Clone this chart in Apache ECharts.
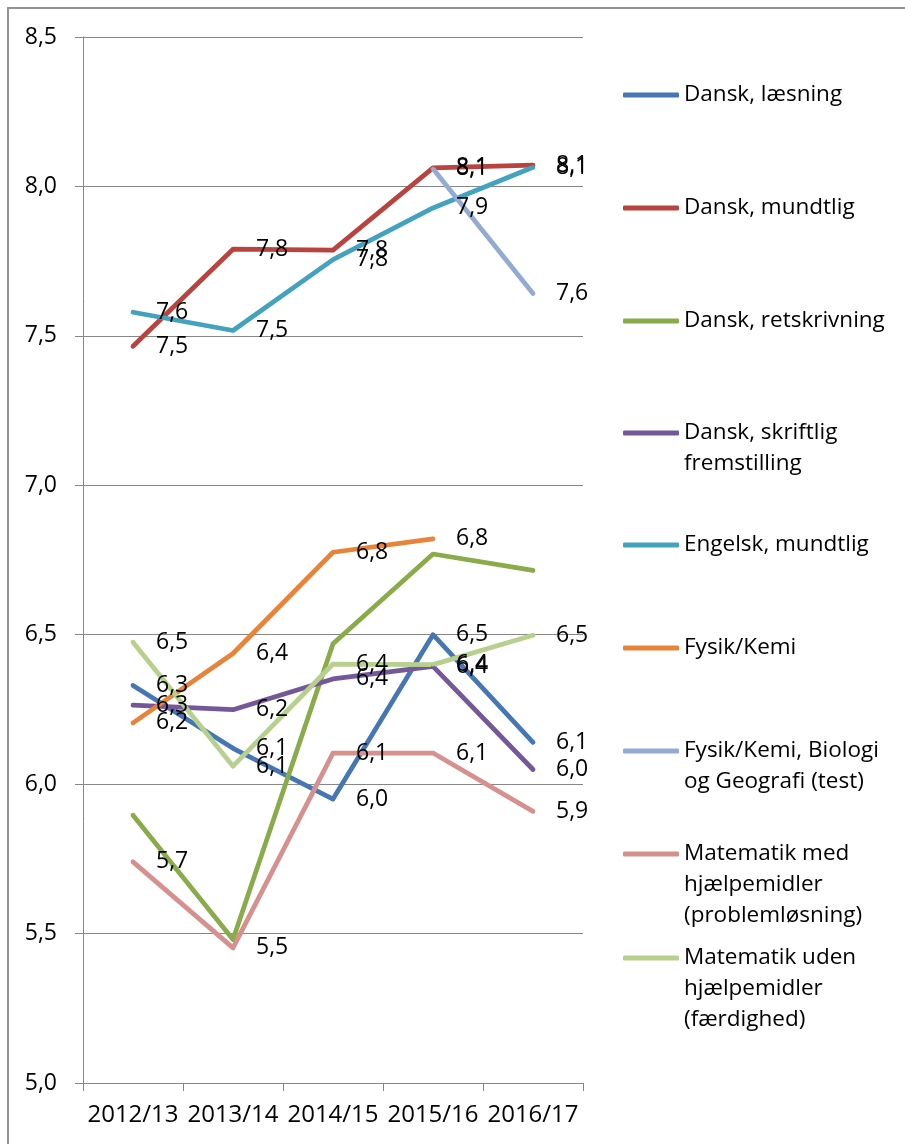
<!DOCTYPE html>
<html>
<head>
<meta charset="utf-8">
<script src="https://cdn.jsdelivr.net/npm/echarts@6/dist/echarts.min.js"></script>
<style>
html,body{margin:0;padding:0;background:#fff;overflow:hidden;}
#wrap{position:relative;width:905px;height:1144px;overflow:hidden;}
#chart{position:absolute;left:0;top:0;width:905px;height:1144px;}
#frame{position:absolute;left:7px;top:7px;width:1000px;height:1300px;border-top:2px solid #939393;border-left:2px solid #939393;pointer-events:none;}
</style>
</head>
<body>
<div id="wrap"><div id="chart"></div><div id="frame"></div></div>
<script>
// Categories (school years)
const categories = ['2012/13', '2013/14', '2014/15', '2015/16', '2016/17'];

// Series names
const seriesNames = [
  'Dansk, læsning',
  'Dansk, mundtlig',
  'Dansk, retskrivning',
  'Dansk, skriftlig\nfremstilling',
  'Engelsk, mundtlig',
  'Fysik/Kemi',
  'Fysik/Kemi, Biologi\nog Geografi (test)',
  'Matematik med\nhjælpemidler\n(problemløsning)',
  'Matematik uden\nhjælpemidler\n(færdighed)'
];

// Series values
const danskLaesning     = [6.33, 6.12, 5.95, 6.50, 6.14];
const danskMundtlig     = [7.465, 7.79, 7.787, 8.062, 8.071];
const danskRetskrivning = [5.896, 5.48, 6.47, 6.77, 6.715];
const danskSkriftlig    = [6.264, 6.249, 6.352, 6.394, 6.049];
const engelskMundtlig   = [7.579, 7.518, 7.755, 7.928, 8.064];
const fysikKemi         = [6.205, 6.437, 6.776, 6.821, null];
const fysikBioGeo       = [null, null, null, 8.059, 7.642];
const matMed            = [5.74, 5.452, 6.104, 6.104, 5.909];
const matUden           = [6.475, 6.06, 6.402, 6.40, 6.498];

// Y axis tick values
const yTicks = [5.0, 5.5, 6.0, 6.5, 7.0, 7.5, 8.0, 8.5];

const seriesData = [danskLaesning, danskMundtlig, danskRetskrivning, danskSkriftlig,
  engelskMundtlig, fysikKemi, fysikBioGeo, matMed, matUden];
const colors = ['#4677B4', '#B9433F', '#8AAB49', '#74589A', '#43A3BF', '#E8843A', '#93ABD3', '#D6918F', '#B8D08E'];
const showLabels = [true, true, false, true, true, true, true, true, true];

// Legend icon centres (layout)
const legendCenters = [95, 208, 321, 433, 545, 648, 751, 854, 958];

const FONT = 'Open Sans';
const fmt = v => Number(v).toFixed(1).replace('.', ',');

const series = seriesNames.map((name, i) => ({
  name: name,
  type: 'line',
  data: seriesData[i],
  color: colors[i],
  symbol: 'circle',
  symbolSize: 4,
  showSymbol: true,
  connectNulls: false,
  lineStyle: { width: 4.75, color: colors[i], cap: 'round', join: 'round' },
  itemStyle: { color: colors[i] },
  emphasis: { disabled: true },
  animation: false,
  label: {
    show: showLabels[i],
    position: 'right',
    distance: 21,
    color: '#000',
    fontFamily: FONT,
    fontSize: 23,
    formatter: p => fmt(p.value)
  }
}));

const LH = 31;
const legends = seriesNames.map((name, i) => {
  const lines = name.split('\n').length;
  const H = (2 * lines - 1) * LH;
  return {
    orient: 'vertical',
    left: 623,
    top: legendCenters[i] - H / 2,
    padding: 0,
    itemWidth: 56,
    itemHeight: 5,
    icon: 'roundRect',
    selectedMode: false,
    data: [name],
    formatter: n => '\n'.repeat(lines - 1) + n,
    textStyle: { fontFamily: FONT, fontSize: 22.5, lineHeight: LH, color: '#000' }
  };
});

const chart = echarts.init(document.getElementById('chart'), null, { renderer: 'canvas' });
chart.setOption({
  backgroundColor: 'transparent',
  animation: false,
  grid: { left: 83, right: 322, top: 37, bottom: 61, containLabel: false },
  legend: legends,
  xAxis: {
    type: 'category',
    data: categories,
    boundaryGap: true,
    axisLine: { show: true, lineStyle: { color: '#878787', width: 1 } },
    axisTick: { show: true, alignWithLabel: false, length: 8, lineStyle: { color: '#878787' } },
    axisLabel: { color: '#000', fontFamily: FONT, fontSize: 24, margin: 20, interval: 0 },
    splitLine: { show: false }
  },
  yAxis: {
    type: 'value',
    min: yTicks[0],
    max: yTicks[yTicks.length - 1],
    interval: 0.5,
    axisLine: { show: true, lineStyle: { color: '#878787', width: 1 } },
    axisTick: { show: true, length: 8, lineStyle: { color: '#878787' } },
    axisLabel: { color: '#000', fontFamily: FONT, fontSize: 23, margin: 26, formatter: v => fmt(v) },
    splitLine: { show: true, lineStyle: { color: '#878787', width: 1 } }
  },
  series: series
});
</script>
</body>
</html>
